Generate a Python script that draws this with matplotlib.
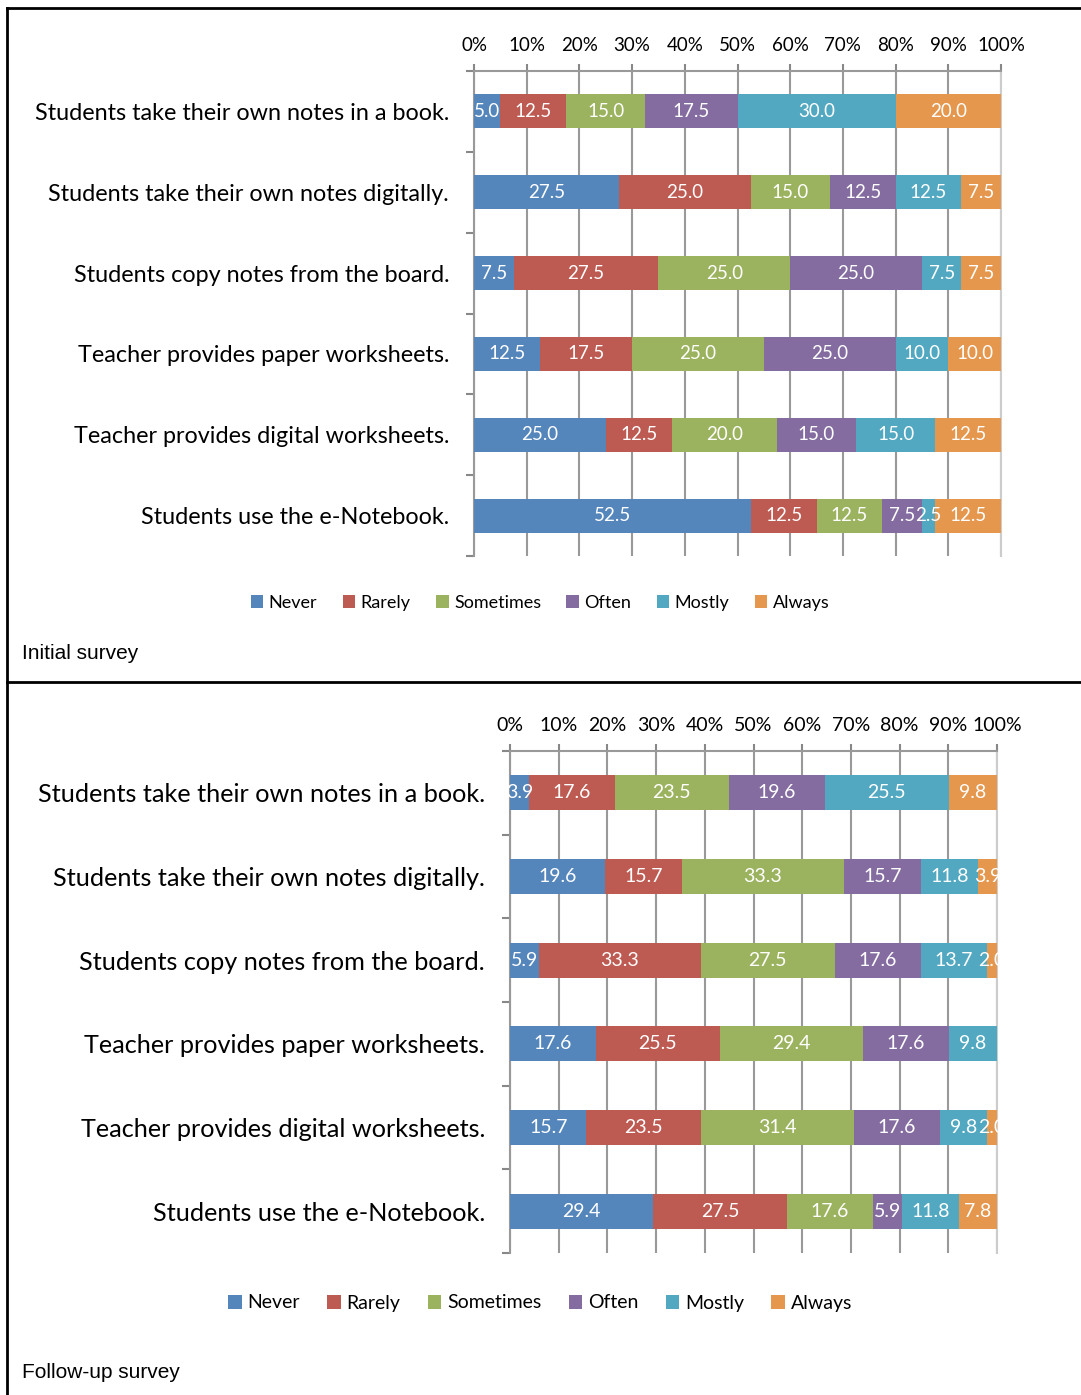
import numpy as np
import matplotlib
matplotlib.use("Agg")
import matplotlib.pyplot as plt
from matplotlib.lines import Line2D
from matplotlib.patches import Patch

plt.rcParams['font.family'] = ['Lato', 'DejaVu Sans']

categories = ["Students take their own notes in a book.",
              "Students take their own notes digitally.",
              "Students copy notes from the board.",
              "Teacher provides paper worksheets.",
              "Teacher provides digital worksheets.",
              "Students use the e-Notebook."]
levels = ["Never", "Rarely", "Sometimes", "Often", "Mostly", "Always"]
colors = ["#5485BB", "#BD5A52", "#9BB35E", "#846CA0", "#52A8C1", "#E5974E"]

# rows = categories, columns = levels (percent)
initial = [[5.0, 12.5, 15.0, 17.5, 30.0, 20.0],
           [27.5, 25.0, 15.0, 12.5, 12.5, 7.5],
           [7.5, 27.5, 25.0, 25.0, 7.5, 7.5],
           [12.5, 17.5, 25.0, 25.0, 10.0, 10.0],
           [25.0, 12.5, 20.0, 15.0, 15.0, 12.5],
           [52.5, 12.5, 12.5, 7.5, 2.5, 12.5]]
followup = [[3.9, 17.6, 23.5, 19.6, 25.5, 9.8],
            [19.6, 15.7, 33.3, 15.7, 11.8, 3.9],
            [5.9, 33.3, 27.5, 17.6, 13.7, 2.0],
            [17.6, 25.5, 29.4, 17.6, 9.8, 0.0],
            [15.7, 23.5, 31.4, 17.6, 9.8, 2.0],
            [29.4, 27.5, 17.6, 5.9, 11.8, 7.8]]
xticks = np.arange(0, 101, 10)
xticklabels = ["%d%%" % t for t in xticks]

W, H = 1081, 1395
fig = plt.figure(figsize=(W / 100, H / 100), dpi=100)


def px_axes(x0, y0, x1, y1):
    return fig.add_axes([x0 / W, 1 - y1 / H, (x1 - x0) / W, (y1 - y0) / H])


def draw_panel(ax, data, fs, cat_fs):
    data = np.array(data)
    y = np.arange(len(categories))
    left = np.zeros(len(categories))
    for j in range(len(levels)):
        vals = data[:, j]
        ax.barh(y, vals, left=left, height=0.42, color=colors[j], zorder=3)
        for i in range(len(categories)):
            if vals[i] > 0:
                ax.text(left[i] + vals[i] / 2, y[i], "%.1f" % vals[i], color="white",
                        ha="center", va="center", fontsize=fs, zorder=4, clip_on=False)
        left += vals
    ax.set_xlim(0, 100)
    ax.set_ylim(len(categories) - 0.5, -0.5)
    ax.set_xticks(xticks)
    ax.set_xticklabels(xticklabels, fontsize=fs)
    ax.xaxis.tick_top()
    ax.set_yticks(y)
    ax.set_yticklabels(categories, fontsize=cat_fs)
    ax.set_yticks(np.arange(len(categories) + 1) - 0.5, minor=True)
    ax.tick_params(axis="y", which="major", length=0, pad=18)
    ax.tick_params(axis="y", which="minor", length=6, color="#888888", width=1.5)
    ax.tick_params(axis="x", length=5, color="#888888", width=1.5, pad=7)
    ax.grid(axis="x", color="#999999", lw=1.5, zorder=0)
    for s in ["top", "left"]:
        ax.spines[s].set_color("#999999")
        ax.spines[s].set_linewidth(1.5)
    ax.spines["bottom"].set_visible(False)
    ax.spines["right"].set_color("#cccccc")
    ax.spines["right"].set_linewidth(1.5)


ax1 = px_axes(474, 71, 1001, 556)
draw_panel(ax1, initial, 13.5, 16.8)
ax2 = px_axes(510, 751, 997, 1253)
draw_panel(ax2, followup, 14, 18.2)

handles = [Patch(facecolor=c, edgecolor="none") for c in colors]
fig.legend(handles, levels, loc="center", bbox_to_anchor=(540 / W, 1 - 603 / H), ncol=6,
           frameon=False, fontsize=13, handlelength=0.7, handleheight=0.7,
           handletextpad=0.3, columnspacing=1.4)
fig.legend(handles, levels, loc="center", bbox_to_anchor=(540 / W, 1 - 1303 / H), ncol=6,
           frameon=False, fontsize=14, handlelength=0.7, handleheight=0.7,
           handletextpad=0.3, columnspacing=1.4)

fig.text(22 / W, 1 - 654 / H, "Initial survey", fontsize=15, family="Liberation Sans", va="center")
fig.text(22 / W, 1 - 1373 / H, "Follow-up survey", fontsize=15, family="Liberation Sans", va="center")

# frame lines
fig.add_artist(Line2D([7 / W, 1], [1 - 8 / H, 1 - 8 / H], color="black", lw=2))
fig.add_artist(Line2D([7 / W, 7 / W], [1 - 8 / H, 0], color="black", lw=2))
fig.add_artist(Line2D([7 / W, 1], [1 - 682 / H, 1 - 682 / H], color="black", lw=2))

fig.savefig("out.png", dpi=100)
